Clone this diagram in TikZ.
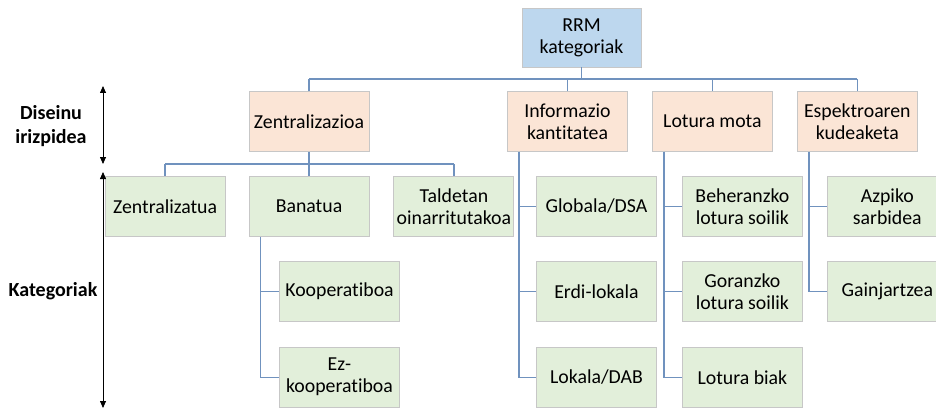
\documentclass[tikz,border=0pt]{standalone}
\usepackage{fontspec}
\setmainfont{Carlito}[Ligatures=NoCommon]
\usepackage{xcolor}
\definecolor{rrmblue}{HTML}{BDD7EE}
\definecolor{critpeach}{HTML}{FBE5D6}
\definecolor{catgreen}{HTML}{E2EFDA}
\definecolor{linkblue}{HTML}{7092BE}
\usepackage{tikz}
\usetikzlibrary{positioning}
\usetikzlibrary{arrows.meta}

\begin{document}
\begin{tikzpicture}[x=1pt,y=-1pt,
    box/.style={draw=black!22, line width=0.9pt, minimum width=120pt, minimum height=60pt,
      inner sep=1pt, align=center, font=\fontsize{19.8}{22}\selectfont},
    crit/.style={box, fill=critpeach},
    cat/.style={box, fill=catgreen},
    link/.style={draw=linkblue, line width=1.3pt},
    side/.style={align=center, font=\bfseries\fontsize{20}{24}\selectfont},
    span/.style={{Triangle[length=7pt,width=6pt]}-{Triangle[length=7pt,width=6pt]}, line width=0.8pt}]
    \clip (0,0) rectangle (936,409);

    \node [box, fill=rrmblue, minimum width=119pt, minimum height=59pt] (rrm) at (581.5,37.5) {RRM\\kategoriak};

    \node [crit] (zent) at (309,121.5) {Zentralizazioa};
    \node [crit] (info) at (567.5,121.5) {Informazio\\kantitatea};
    \node [crit, right=24pt of info] (lotura) {Lotura mota};
    \node [crit, right=24pt of lotura] (espek) {Espektroaren\\kudeaketa};

    \node [cat, below=24pt of zent] (banatua) {Banatua};
    \node [cat, left=23pt of banatua] (zentu) {Zentralizatua};
    \node [cat, right=24pt of banatua] (taldet) {Taldetan\\oinarritutakoa};
    \node [cat, below=24pt of banatua, xshift=30.5pt] (koop) {Kooperatiboa};
    \node [cat, below=25pt of koop] (ezkoop) {Ez-\\kooperatiboa};

    \node [cat, below=24pt of info, xshift=29pt] (glob) {Globala/DSA};
    \node [cat, below=24pt of glob] (erdi) {Erdi-lokala};
    \node [cat, below=25pt of erdi] (lok) {Lokala/DAB};

    \node [cat, below=24pt of lotura, xshift=30pt] (beher) {Beheranzko\\lotura soilik};
    \node [cat, below=24pt of beher] (goran) {Goranzko\\lotura soilik};
    \node [cat, below=25pt of goran] (biak) {Lotura biak};

    \node [cat, below=24pt of espek, xshift=30pt] (azpiko) {Azpiko\\sarbidea};
    \node [cat, below=24pt of azpiko] (gainj) {Gainjartzea};

    % bus lines
    \coordinate (bus) at (0,79);
    \coordinate (subbus) at (0,164);
    \draw [link] (rrm.south) -- (rrm.south |- bus);
    \draw [link] (zent.north |- bus) -- (espek.north |- bus);
    \foreach \n in {zent,info,lotura,espek}
        \draw [link] (\n.north) -- (\n.north |- bus);
    \draw [link] (zent.south) -- (zent.south |- subbus);
    \draw [link] (zentu.north |- subbus) -- (taldet.north |- subbus);
    \foreach \n in {zentu,banatua,taldet}
        \draw [link] (\n.north) -- (\n.north |- subbus);

    % side branches
    \foreach \p/\c in {banatua/koop, banatua/ezkoop, info/glob, info/erdi, info/lok,
        lotura/beher, lotura/goran, lotura/biak, espek/azpiko, espek/gainj}
        \draw [link] ([xshift=12pt]\p.south west) |- (\c.west);

    % left labels
    \node [side] (diseinu) at (51,126) {Diseinu\\irizpidea};
    \node [side] (katego) at (53,291) {Kategoriak};
    \coordinate (dtop) at (103,86);
    \coordinate (dbot) at (103,164);
    \coordinate (ktop) at (103,172);
    \coordinate (kbot) at (103,408);
    \draw [span] (dtop) -- (dbot);
    \draw [span] (ktop) -- (kbot);
\end{tikzpicture}
\end{document}
